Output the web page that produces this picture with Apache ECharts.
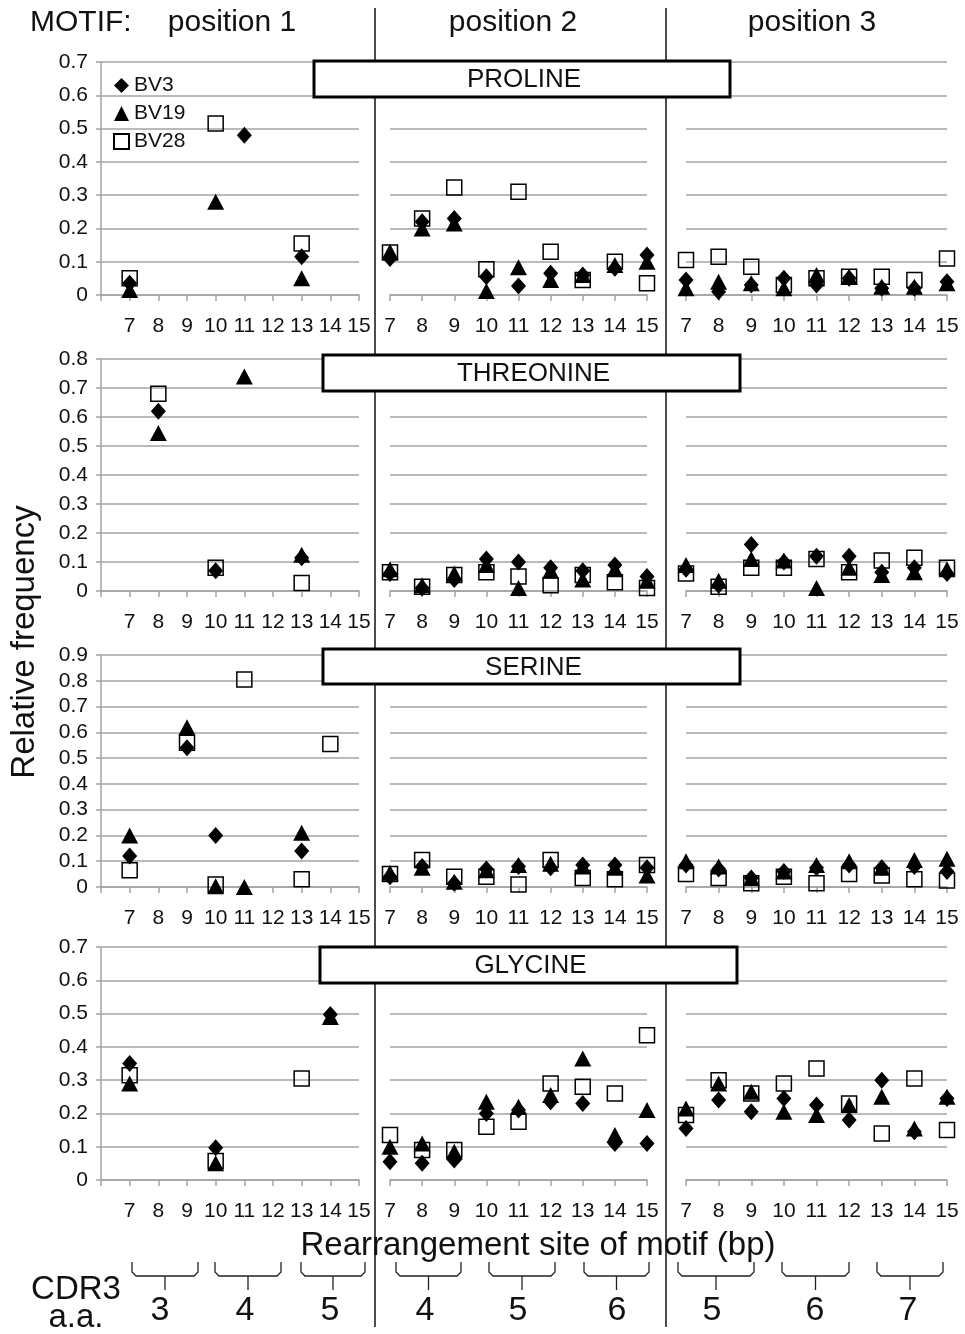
<!DOCTYPE html>
<html>
<head>
<meta charset="utf-8">
<script src="https://cdn.jsdelivr.net/npm/echarts@6/dist/echarts.min.js"></script>
<style>
html,body{margin:0;padding:0;background:#fff;}
#chart{width:965px;height:1334px;}
</style>
</head>
<body>
<div id="chart"></div>
<script>
// ---------- DATA ----------
const sites = [7, 8, 9, 10, 11, 12, 13, 14, 15];
const seriesNames = ['BV3', 'BV19', 'BV28'];
const aminoAcids = ['PROLINE', 'THREONINE', 'SERINE', 'GLYCINE'];
const positionLabels = ['position 1', 'position 2', 'position 3'];
const yMaxByRow = [0.7, 0.8, 0.9, 0.7];
const cdr3Numbers = ['3', '4', '5', '4', '5', '6', '5', '6', '7'];

// PROLINE
const pro1_BV3  = [0.035, null, null, null, 0.48, null, 0.115, null, null];
const pro1_BV19 = [0.015, null, null, 0.28, null, null, 0.05, null, null];
const pro1_BV28 = [0.05, null, null, 0.515, null, null, 0.155, null, null];
const pro2_BV3  = [0.11, 0.22, 0.23, 0.055, 0.027, 0.065, 0.06, 0.08, 0.12];
const pro2_BV19 = [0.13, 0.2, 0.215, 0.012, 0.083, 0.045, 0.06, 0.09, 0.1];
const pro2_BV28 = [0.128, 0.23, 0.323, 0.077, 0.31, 0.13, 0.045, 0.1, 0.035];
const pro3_BV3  = [0.045, 0.01, 0.03, 0.05, 0.03, 0.05, 0.02, 0.02, 0.04];
const pro3_BV19 = [0.02, 0.04, 0.035, 0.02, 0.06, 0.055, 0.025, 0.025, 0.035];
const pro3_BV28 = [0.105, 0.115, 0.085, 0.03, 0.05, 0.055, 0.055, 0.045, 0.11];

// THREONINE
const thr1_BV3  = [null, 0.62, null, 0.07, null, null, 0.115, null, null];
const thr1_BV19 = [null, 0.545, null, null, 0.74, null, 0.125, null, null];
const thr1_BV28 = [null, 0.68, null, 0.08, null, null, 0.028, null, null];
const thr2_BV3  = [0.06, 0.01, 0.04, 0.11, 0.1, 0.08, 0.07, 0.09, 0.05];
const thr2_BV19 = [0.075, 0.02, 0.06, 0.09, 0.01, 0.07, 0.04, 0.075, 0.035];
const thr2_BV28 = [0.065, 0.015, 0.055, 0.065, 0.05, 0.02, 0.055, 0.03, 0.01];
const thr3_BV3  = [0.075, 0.02, 0.16, 0.1, 0.12, 0.12, 0.065, 0.08, 0.06];
const thr3_BV19 = [0.09, 0.035, 0.11, 0.105, 0.01, 0.08, 0.055, 0.065, 0.075];
const thr3_BV28 = [0.06, 0.015, 0.08, 0.08, 0.11, 0.065, 0.105, 0.115, 0.08];

// SERINE
const ser1_BV3  = [0.12, null, 0.54, 0.2, null, null, 0.14, null, null];
const ser1_BV19 = [0.2, null, 0.62, 0.003, 0.0, null, 0.21, null, null];
const ser1_BV28 = [0.065, null, 0.56, 0.01, 0.805, null, 0.03, 0.555, null];
const ser2_BV3  = [0.04, 0.08, 0.015, 0.07, 0.08, 0.075, 0.085, 0.085, 0.075];
const ser2_BV19 = [0.055, 0.075, 0.02, 0.065, 0.085, 0.09, 0.08, 0.075, 0.045];
const ser2_BV28 = [0.05, 0.105, 0.04, 0.04, 0.01, 0.105, 0.035, 0.03, 0.085];
const ser3_BV3  = [0.085, 0.07, 0.035, 0.06, 0.075, 0.085, 0.075, 0.08, 0.06];
const ser3_BV19 = [0.1, 0.08, 0.035, 0.06, 0.085, 0.1, 0.075, 0.105, 0.11];
const ser3_BV28 = [0.05, 0.035, 0.015, 0.04, 0.015, 0.05, 0.045, 0.03, 0.025];

// GLYCINE
const gly1_BV3  = [0.35, null, null, 0.097, null, null, null, 0.497, null];
const gly1_BV19 = [0.29, null, null, 0.05, null, null, null, 0.49, null];
const gly1_BV28 = [0.315, null, null, 0.057, null, null, 0.305, null, null];
const gly2_BV3  = [0.055, 0.05, 0.06, 0.2, 0.21, 0.235, 0.23, 0.11, 0.11];
const gly2_BV19 = [0.1, 0.11, 0.085, 0.235, 0.22, 0.255, 0.365, 0.135, 0.21];
const gly2_BV28 = [0.135, 0.09, 0.09, 0.16, 0.175, 0.29, 0.28, 0.26, 0.435];
const gly3_BV3  = [0.155, 0.24, 0.205, 0.245, 0.225, 0.18, 0.3, 0.145, 0.245];
const gly3_BV19 = [0.215, 0.29, 0.265, 0.205, 0.195, 0.225, 0.25, 0.155, 0.25];
const gly3_BV28 = [0.195, 0.3, 0.26, 0.29, 0.335, 0.23, 0.14, 0.305, 0.15];

// table built from the arrays: [row][panel][series]
const table = [
  [[pro1_BV3, pro1_BV19, pro1_BV28], [pro2_BV3, pro2_BV19, pro2_BV28], [pro3_BV3, pro3_BV19, pro3_BV28]],
  [[thr1_BV3, thr1_BV19, thr1_BV28], [thr2_BV3, thr2_BV19, thr2_BV28], [thr3_BV3, thr3_BV19, thr3_BV28]],
  [[ser1_BV3, ser1_BV19, ser1_BV28], [ser2_BV3, ser2_BV19, ser2_BV28], [ser3_BV3, ser3_BV19, ser3_BV28]],
  [[gly1_BV3, gly1_BV19, gly1_BV28], [gly2_BV3, gly2_BV19, gly2_BV28], [gly3_BV3, gly3_BV19, gly3_BV28]]
];

// ---------- LAYOUT ----------
const FONT = '"Liberation Sans", Arial, sans-serif';
const rowTop = [62, 359, 655, 947];
const rowBottom = [295, 591, 887, 1180];
const panelLeft = [101, 390, 686];
const panelRight = [359, 647, 947];
const boxes = [[314, 61, 416, 36], [323, 355, 417, 36], [323, 649, 417, 35], [320, 947, 417, 36]];
const braceSpans = [[132, 198], [215, 281], [301, 365], [396, 461], [489, 555], [584, 649], [678, 754], [782, 849], [877, 943]];
const numberX = [160, 245, 330, 425, 518, 617, 712, 815, 908];
const positionX = [232, 513, 812];
const GRID_COLOR = '#a3a3a3';

const symbolDefs = [
  { symbol: 'diamond', symbolSize: [15, 17], itemStyle: { color: '#000', opacity: 1 } },
  { symbol: 'triangle', symbolSize: [17, 16], itemStyle: { color: '#000', opacity: 1 } },
  { symbol: 'rect', symbolSize: 15, itemStyle: { color: 'rgba(255,255,255,0)', borderColor: '#000', borderWidth: 1.5, opacity: 1 } }
];

const grids = [], xAxes = [], yAxes = [], series = [];
for (let r = 0; r < 4; r++) {
  for (let c = 0; c < 3; c++) {
    const idx = r * 3 + c;
    grids.push({
      left: panelLeft[c], top: rowTop[r],
      width: panelRight[c] - panelLeft[c], height: rowBottom[r] - rowTop[r],
      containLabel: false, outerBoundsMode: 'none'
    });
    xAxes.push({
      type: 'value', gridIndex: idx, min: c === 0 ? 6 : 7, max: 15, interval: 1,
      axisLine: { show: true, onZero: false, lineStyle: { color: GRID_COLOR, width: 1.5 } },
      axisTick: { show: true, length: 6, lineStyle: { color: GRID_COLOR, width: 1.5 } },
      axisLabel: { fontSize: 21, color: '#111', fontFamily: FONT, margin: 21,
        formatter: v => (v < 7 ? '' : String(v)) },
      splitLine: { show: false }
    });
    yAxes.push({
      type: 'value', gridIndex: idx, min: 0, max: yMaxByRow[r], interval: 0.1,
      axisLine: { show: c === 0, lineStyle: { color: GRID_COLOR, width: 1.5 } },
      axisTick: { show: c === 0, length: 5, lineStyle: { color: GRID_COLOR, width: 1.5 } },
      axisLabel: { show: c === 0, fontSize: 21, color: '#111', fontFamily: FONT, margin: 13,
        formatter: v => String(+(+v).toFixed(1)) },
      splitLine: { show: true, lineStyle: { color: GRID_COLOR, width: 1.5 } }
    });
    for (let s = 0; s < 3; s++) {
      const vals = table[r][c][s];
      const pts = [];
      sites.forEach((x, i) => { if (vals[i] !== null) pts.push([x, vals[i]]); });
      series.push(Object.assign({
        type: 'scatter', name: seriesNames[s], xAxisIndex: idx, yAxisIndex: idx,
        data: pts, silent: true, z: 3 + s
      }, JSON.parse(JSON.stringify(symbolDefs[s]))));
    }
  }
}

// ---------- DECORATIONS ----------
const graphics = [];
[375, 666].forEach(x => graphics.push({
  type: 'line', z: 50, shape: { x1: x, y1: 8, x2: x, y2: 1327 },
  style: { stroke: '#111', lineWidth: 1.5 }
}));
graphics.push({ type: 'text', z: 60, x: 30, y: 23,
  style: { text: 'MOTIF:', font: '30px ' + FONT, fill: '#111', textAlign: 'left', textVerticalAlign: 'middle' } });
positionLabels.forEach((t, i) => graphics.push({ type: 'text', z: 60, x: positionX[i], y: 23,
  style: { text: t, font: '30px ' + FONT, fill: '#111', textAlign: 'center', textVerticalAlign: 'middle' } }));
aminoAcids.forEach((name, r) => {
  const b = boxes[r];
  graphics.push({ type: 'rect', z: 100, shape: { x: b[0], y: b[1], width: b[2], height: b[3] },
    style: { fill: '#fff', stroke: '#000', lineWidth: 3 } });
  graphics.push({ type: 'text', z: 101, x: b[0] + b[2] / 2 + 2, y: b[1] + b[3] / 2 + 1,
    style: { text: name, font: '26px ' + FONT, fill: '#111', textAlign: 'center', textVerticalAlign: 'middle' } });
});
graphics.push({ type: 'text', z: 60, x: 25, y: 642, rotation: Math.PI / 2,
  style: { text: 'Relative frequency', font: '33px ' + FONT, fill: '#111', textAlign: 'center', textVerticalAlign: 'middle' } });
graphics.push({ type: 'text', z: 60, x: 538, y: 1246,
  style: { text: 'Rearrangement site of motif (bp)', font: '33px ' + FONT, fill: '#111', textAlign: 'center', textVerticalAlign: 'middle' } });
graphics.push({ type: 'text', z: 60, x: 76, y: 1290,
  style: { text: 'CDR3', font: '33px ' + FONT, fill: '#111', textAlign: 'center', textVerticalAlign: 'middle' } });
graphics.push({ type: 'text', z: 60, x: 76, y: 1318,
  style: { text: 'a.a.', font: '33px ' + FONT, fill: '#111', textAlign: 'center', textVerticalAlign: 'middle' } });
braceSpans.forEach(sp => {
  const [a, b] = sp, m = (a + b) / 2;
  graphics.push({ type: 'polyline', z: 60,
    shape: { points: [[a, 1262], [a, 1272], [a + 4, 1276], [b - 4, 1276], [b, 1272], [b, 1262]] },
    style: { stroke: '#222', lineWidth: 1.3, fill: null } });
  graphics.push({ type: 'line', z: 60, shape: { x1: m, y1: 1276, x2: m, y2: 1290 },
    style: { stroke: '#222', lineWidth: 1.3 } });
});
cdr3Numbers.forEach((t, i) => graphics.push({ type: 'text', z: 60, x: numberX[i], y: 1311,
  style: { text: t, font: '34px ' + FONT, fill: '#111', textAlign: 'center', textVerticalAlign: 'middle' } }));

const chart = echarts.init(document.getElementById('chart'), null, { renderer: 'canvas' });
chart.setOption({
  animation: false,
  backgroundColor: '#fff',
  textStyle: { fontFamily: FONT },
  legend: {
    data: seriesNames, orient: 'vertical', left: 113, top: 75, padding: 0,
    itemGap: 7, itemWidth: 15, itemHeight: 15, selectedMode: false,
    textStyle: { fontSize: 21, color: '#111', fontFamily: FONT }
  },
  grid: grids, xAxis: xAxes, yAxis: yAxes, series: series,
  graphic: { elements: graphics }
});
</script>
</body>
</html>
